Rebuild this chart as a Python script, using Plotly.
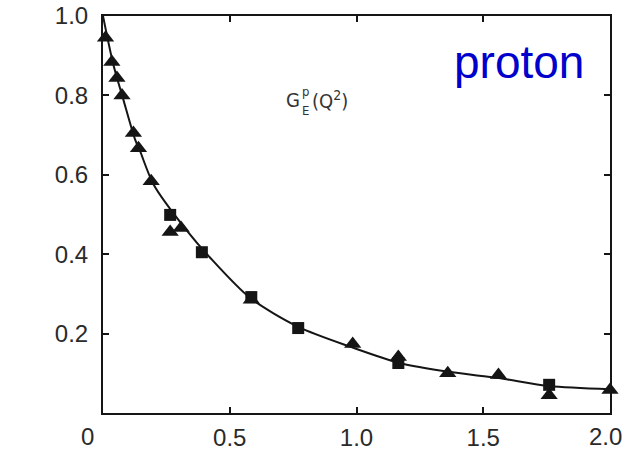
import plotly.graph_objects as go

# Proton electric form factor G_E^p(Q^2): measured points and fitted curve
tri_q2 = [0.01, 0.035, 0.055, 0.075, 0.12, 0.14, 0.19, 0.265, 0.308,
          0.585, 0.985, 1.165, 1.36, 1.56, 1.76, 2.0]
tri_ge = [0.945, 0.884, 0.844, 0.80, 0.705, 0.667, 0.584, 0.456, 0.466,
          0.285, 0.174, 0.141, 0.100, 0.096, 0.045, 0.058]

sq_q2 = [0.265, 0.39, 0.585, 0.77, 1.165, 1.76]
sq_ge = [0.499, 0.405, 0.292, 0.214, 0.126, 0.071]

fit_q2 = [0.0, 0.04, 0.08, 0.126, 0.146, 0.2, 0.33, 0.42, 0.58, 0.77,
          0.98, 1.17, 1.37, 1.56, 1.76, 2.0]
fit_ge = [1.0, 0.88, 0.79, 0.69, 0.66, 0.575, 0.46, 0.393, 0.29, 0.217,
          0.166, 0.126, 0.103, 0.088, 0.068, 0.06]

x_ticks = [0.5, 1.0, 1.5, 2.0]
x_tick_text = ["0.5", "1.0", "1.5", ""]   # end label "2.0" is placed separately
y_ticks = [0.2, 0.4, 0.6, 0.8, 1.0]
y_tick_text = ["0.2", "0.4", "0.6", "0.8", "1.0"]

ink = "#151515"
label_color = "#2a2a2a"
tick_font = dict(family="Liberation Sans", size=24, color=label_color)

fig = go.Figure()
fig.add_trace(go.Scatter(x=fit_q2, y=fit_ge, mode="lines",
                         line=dict(color=ink, width=2, shape="spline", smoothing=0.8),
                         hoverinfo="skip", cliponaxis=False))
fig.add_trace(go.Scatter(x=sq_q2, y=sq_ge, mode="markers",
                         marker=dict(symbol="square", size=12, color=ink),
                         cliponaxis=False))
fig.add_trace(go.Scatter(x=tri_q2, y=tri_ge, mode="markers",
                         marker=dict(symbol="triangle-up", size=15, color=ink),
                         cliponaxis=False))

axis_common = dict(showline=True, linecolor=ink, linewidth=2, mirror="ticks",
                   ticks="inside", ticklen=6, tickwidth=1.5, tickcolor=ink,
                   showgrid=False, zeroline=False, automargin=False,
                   ticklabeloverflow="allow", tickfont=tick_font)

fig.update_xaxes(range=[0, 2.0], tickvals=x_ticks, ticktext=x_tick_text,
                 ticklabelstandoff=2, **axis_common)
fig.update_yaxes(range=[0, 1.0], tickvals=y_ticks, ticktext=y_tick_text,
                 ticklabelstandoff=8, **axis_common)

# Corner labels: origin below-left, and the last x label pulled in from the edge
fig.add_annotation(x=-0.031, y=-0.06, xref="paper", yref="paper", text="0",
                   xanchor="center", yanchor="middle",
                   showarrow=False, font=tick_font)
fig.add_annotation(x=1.0, y=-0.06, xref="paper", yref="paper", text="2.0",
                   xanchor="right", yanchor="middle", xshift=14,
                   showarrow=False, font=tick_font)

# G_E^p(Q^2) label with stacked super/subscript
gfont = dict(family="DejaVu Sans Condensed", size=20, color="#333333")
sfont = dict(family="DejaVu Sans Condensed", size=13, color="#333333")
fig.add_annotation(x=0.751, y=0.788, text="G", showarrow=False, font=gfont)
fig.add_annotation(x=0.797, y=0.810, text="p", showarrow=False, font=sfont)
fig.add_annotation(x=0.797, y=0.763, text="E", showarrow=False, font=sfont)
fig.add_annotation(x=0.815, y=0.788, text="(Q<sup>2</sup>)", showarrow=False,
                   xanchor="left", font=gfont)

fig.add_annotation(x=1.905, y=0.885, text="proton", showarrow=False, xanchor="right",
                   font=dict(family="Liberation Sans", size=46, color="#0000cc"))

fig.update_layout(width=624, height=453, showlegend=False,
                  margin=dict(l=103, r=14, t=16, b=40),
                  paper_bgcolor="white", plot_bgcolor="white")

fig.write_html("out.html")
